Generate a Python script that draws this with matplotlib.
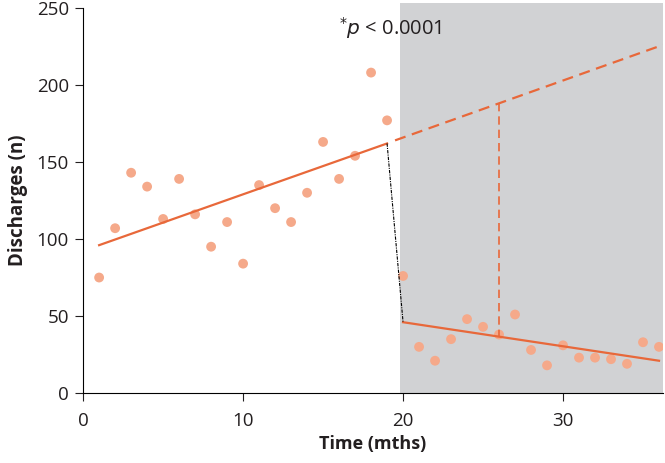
import numpy as np
import matplotlib.pyplot as plt

plt.rcParams['font.family'] = ['Open Sans', 'DejaVu Sans']

# monthly discharges
months = list(range(1, 37))
discharges = [75, 107, 143, 134, 113, 139, 116, 95, 111, 84,
              135, 120, 111, 130, 163, 139, 154, 208, 177, 76,
              30, 21, 35, 48, 43, 38, 51, 28, 18, 31,
              23, 23, 22, 19, 33, 30]

# fitted segments
pre_x = [1, 19]
pre_y = [96, 162]
proj_x = [19.5, 36.25]
proj_y = [164, 226]
post_x = [20, 36]
post_y = [46, 21]
drop_x = [19, 20]
drop_y = [162, 46]
gap_x = 26
gap_y = [188, 37]
intervention = 19.8

pt_col = '#f5a98a'
ln_col = '#e8683a'

fig = plt.figure(figsize=(6.65, 4.63), dpi=100)
ax = fig.add_axes([0.125, 0.151, 0.872, 0.832])

ax.axvspan(intervention, 36.25, ymin=0, ymax=1.012, color='#d1d2d4', lw=0, zorder=0, clip_on=False)

ax.scatter(months, discharges, s=50, color=pt_col, edgecolor='none', zorder=3)
ax.plot(pre_x, pre_y, color=ln_col, lw=1.6, zorder=4)
ax.plot(proj_x, proj_y, color=ln_col, lw=1.6, ls=(0, (5, 3)), zorder=4)
ax.plot(post_x, post_y, color=ln_col, lw=1.6, zorder=4)
ax.plot(drop_x, drop_y, color='black', lw=0.8, ls=(0, (3, 1, 1, 1)), zorder=4)
ax.plot([gap_x, gap_x], gap_y, color=ln_col, lw=1.2, ls=(0, (5, 3)), zorder=4)

ax.text(16.0, 237, r'$^{*}\mathit{p}$ < 0.0001', fontsize=14.5, va='center', ha='left',
        color='#231f20')

ax.set_xlim(0, 36.25)
ax.set_ylim(0, 250)
ax.set_xticks([0, 10, 20, 30])
ax.set_yticks([0, 50, 100, 150, 200, 250])
ax.spines['top'].set_visible(False)
ax.spines['right'].set_visible(False)
ax.tick_params(labelsize=13.5, length=5.8, direction='out', colors='#231f20')
ax.tick_params(axis='x', pad=7.5)
ax.tick_params(axis='y', pad=4.5)
ax.set_xlabel('Time (mths)', fontsize=13, fontweight='bold', labelpad=4, color='#231f20')
ax.set_ylabel('Discharges (n)', fontsize=13.5, fontweight='bold', labelpad=6, color='#231f20')

fig.savefig('out.png', dpi=100)
